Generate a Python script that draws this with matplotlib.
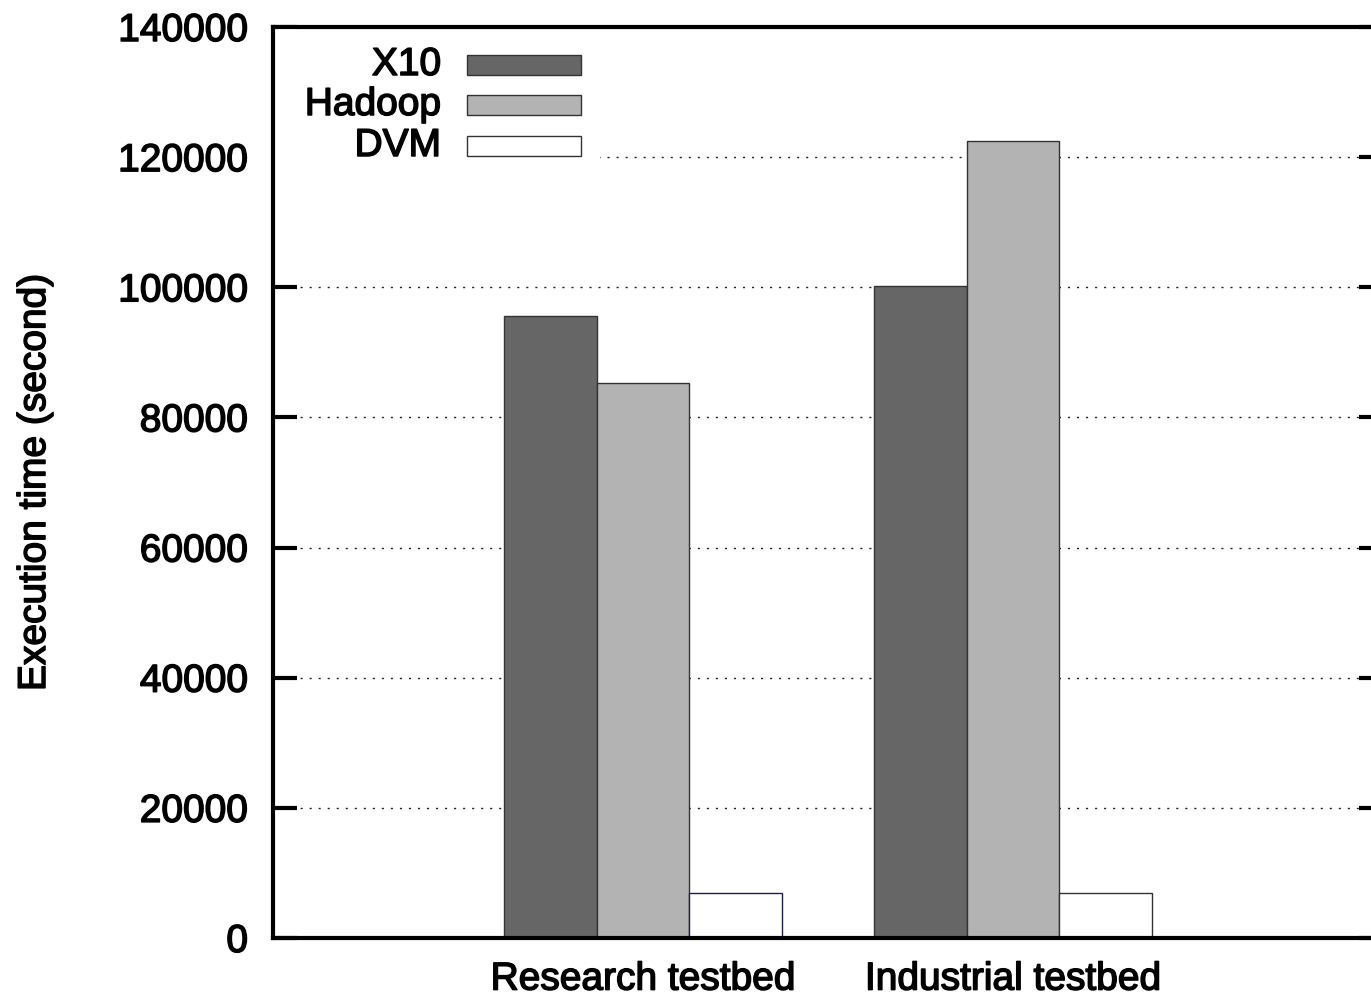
import matplotlib
matplotlib.use("Agg")
import matplotlib.pyplot as plt
import matplotlib.patheffects as pe
from matplotlib.patches import Rectangle
import numpy as np

plt.rcParams['font.family'] = ['Liberation Sans', 'DejaVu Sans']
plt.rcParams['lines.scale_dashes'] = False

categories = ["Research testbed", "Industrial testbed"]
series_names = ["X10", "Hadoop", "DVM"]
x10 = [95600, 100200]
hadoop = [85300, 122500]
dvm = [6900, 6900]
y_ticks = [0, 20000, 40000, 60000, 80000, 100000, 120000, 140000]

fills = ["#666666", "#b3b3b3", "#ffffff"]
edges = [["#333333", "#333333"], ["#333333", "#333333"], ["#1c1c5c", "#333333"]]

# slightly heavier glyphs
heavy = [pe.withStroke(linewidth=1.1, foreground='black')]

fig = plt.figure(figsize=(13.71, 9.96), dpi=100)
ax = fig.add_axes([273 / 1371, 58 / 996, 1110 / 1371, 911 / 996])

x = np.arange(len(categories))
width = 0.25
for i, (vals, fc, ec) in enumerate(zip([x10, hadoop, dvm], fills, edges)):
    ax.bar(x + (i - 1) * width, vals, width, color=fc, edgecolor=ec,
           linewidth=1.0, zorder=2)

ax.set_xlim(-1, 2)
ax.set_ylim(0, 140000)
ax.set_yticks(y_ticks)
ax.set_yticklabels([str(v) for v in y_ticks])
ax.set_xticks(x)
ax.set_xticklabels(categories)

ax.tick_params(axis='y', direction='in', length=17, width=3, labelsize=28,
               pad=18, right=True, left=True)
ax.tick_params(axis='x', length=0, labelsize=28, pad=17)
for lbl in ax.get_xticklabels() + ax.get_yticklabels():
    lbl.set_path_effects(heavy)

for side in ['left', 'right', 'top', 'bottom']:
    ax.spines[side].set_linewidth(3)
    ax.spines[side].set_color('black')
    ax.spines[side].set_zorder(5)

ax.set_axisbelow(True)
ax.yaxis.grid(True, color='#222222', linewidth=1.0, linestyle=(0, (1.5, 5)))

ax.set_ylabel("Execution time (second)", fontsize=28, va='center',
              path_effects=heavy)
ax.yaxis.set_label_coords(-0.2144, 0.5)

# opaque key box over the grid
ax.add_patch(Rectangle((0.0, 0.843), 0.2946, 0.157, transform=ax.transAxes,
                       facecolor='white', edgecolor='none', zorder=3))
row_y = [0.9583, 0.9144, 0.8694]
for name, fc, ec, yy in zip(series_names, fills, edges, row_y):
    ax.text(0.1514, yy, name, transform=ax.transAxes, ha='right', va='center',
            fontsize=28, zorder=4, path_effects=heavy)
    ax.add_patch(Rectangle((0.1748, yy - 0.011), 0.1027, 0.022,
                           transform=ax.transAxes, facecolor=fc,
                           edgecolor='#333333', linewidth=1.0, zorder=4))

fig.savefig("out.png", dpi=100)
